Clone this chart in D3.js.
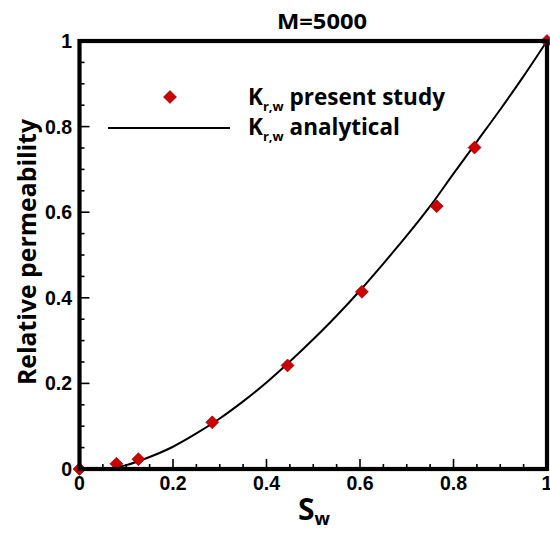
<!DOCTYPE html>
<html><head><meta charset="utf-8">
<script src="https://cdn.jsdelivr.net/npm/d3@7"></script>
<style>html,body{margin:0;padding:0;background:#fff;}</style>
</head><body>
<svg id="chart" width="550" height="537"></svg>
<script>
const swPresent = [0, 0.079, 0.126, 0.284, 0.445, 0.604, 0.764, 0.845, 1.0];
const krPresent = [0, 0.012, 0.023, 0.109, 0.242, 0.414, 0.614, 0.751, 1.0];
const swAnalytic = [0, 0.05, 0.1, 0.15, 0.2, 0.25, 0.3, 0.35, 0.4, 0.45, 0.5, 0.55, 0.6, 0.65, 0.7, 0.75, 0.8, 0.85, 0.9, 0.95, 1];
const krAnalytic = [0, 0, 0.009, 0.028, 0.052, 0.083, 0.118, 0.158, 0.202, 0.251, 0.303, 0.358, 0.417, 0.480, 0.545, 0.614, 0.690, 0.765, 0.840, 0.918, 1];
const xTicks = [0, 0.2, 0.4, 0.6, 0.8, 1];
const yTicks = [0, 0.2, 0.4, 0.6, 0.8, 1];
const xTickLabels = ["0", "0.2", "0.4", "0.6", "0.8", "1"];
const yTickLabels = ["0", "0.2", "0.4", "0.6", "0.8", "1"];
const minorTicks = d3.range(0, 21).map(i => i * 0.05);

const svg = d3.select("#chart");
const L = 79.5, R = 547, T = 41, B = 469;
const x = d3.scaleLinear().domain([0, 1]).range([L, R]);
const y = d3.scaleLinear().domain([0, 1]).range([B, T]);

// analytical curve
const line = d3.line().x((d, i) => x(swAnalytic[i])).y((d, i) => y(krAnalytic[i])).curve(d3.curveMonotoneX);
svg.append("path").datum(swAnalytic).attr("d", line)
  .attr("fill", "none").attr("stroke", "#000").attr("stroke-width", 2);

function diamondPath(s) {
  return `M0,${-s}L${s},0L0,${s}L${-s},0Z`;
}
svg.append("g").selectAll("path").data(swPresent).join("path")
  .attr("d", diamondPath(6.5))
  .attr("transform", (d, i) => `translate(${x(d)},${y(krPresent[i])})`)
  .attr("fill", "#cc0000").attr("stroke", "#8a0000").attr("stroke-width", 0.6);

// ticks inward
const gx = svg.append("g");
gx.selectAll("line").data(minorTicks).join("line")
  .attr("x1", d => x(d)).attr("x2", d => x(d))
  .attr("y1", B).attr("y2", (d, i) => B - (i % 4 === 0 ? 10 : 5))
  .attr("stroke", "#000").attr("stroke-width", 1.6);
const gy = svg.append("g");
gy.selectAll("line").data(minorTicks).join("line")
  .attr("y1", d => y(d)).attr("y2", d => y(d))
  .attr("x1", L).attr("x2", (d, i) => L + (i % 4 === 0 ? 10 : 5))
  .attr("stroke", "#000").attr("stroke-width", 1.6);

// frame
svg.append("rect").attr("x", L).attr("y", T).attr("width", R - L).attr("height", B - T)
  .attr("fill", "none").attr("stroke", "#000").attr("stroke-width", 4.2);

// tick labels
const tickFont = "'Liberation Sans', Arial, sans-serif";
svg.append("g").selectAll("text").data(xTicks).join("text")
  .attr("x", d => x(d)).attr("y", 490)
  .attr("text-anchor", "middle")
  .attr("font-family", tickFont).attr("font-weight", "bold").attr("font-size", 19.5)
  .text((d, i) => xTickLabels[i]);
svg.append("g").selectAll("text").data(yTicks).join("text")
  .attr("x", 72).attr("y", d => y(d) + 7)
  .attr("text-anchor", "end")
  .attr("font-family", tickFont).attr("font-weight", "bold").attr("font-size", 19.5)
  .text((d, i) => yTickLabels[i]);

const labFont = "'Open Sans', 'Noto Sans', sans-serif";
// title
svg.append("text").attr("x", 322).attr("y", 29).attr("text-anchor", "middle")
  .attr("font-family", labFont).attr("font-weight", "bold").attr("font-size", 22)
  .attr("textLength", 90).attr("lengthAdjust", "spacingAndGlyphs")
  .text("M=5000");

// x label
const xl = svg.append("text").attr("x", 298).attr("y", 520)
  .attr("font-family", labFont).attr("font-weight", "bold").attr("font-size", 30);
xl.append("tspan").text("S");
xl.append("tspan").attr("font-size", 18).attr("dy", 5).text("w");

// y label
svg.append("text").attr("transform", "translate(36,252) rotate(-90)")
  .attr("text-anchor", "middle")
  .attr("font-family", labFont).attr("font-weight", "bold").attr("font-size", 25)
  .attr("textLength", 266).attr("lengthAdjust", "spacingAndGlyphs")
  .text("Relative permeability");

// legend
const legX = 248;
svg.append("path").attr("d", diamondPath(6.5)).attr("transform", "translate(170,97)")
  .attr("fill", "#cc0000").attr("stroke", "#8a0000").attr("stroke-width", 0.6);
svg.append("line").attr("x1", 108).attr("x2", 230).attr("y1", 128).attr("y2", 128)
  .attr("stroke", "#000").attr("stroke-width", 2);
const legItems = [{t: " present study", y: 105}, {t: " analytical", y: 135}];
legItems.forEach(it => {
  const tx = svg.append("text").attr("x", legX).attr("y", it.y)
    .attr("font-family", labFont).attr("font-weight", "bold").attr("font-size", 22.5);
  tx.append("tspan").text("K");
  tx.append("tspan").attr("font-size", 13).attr("dy", 6).text("r,w");
  tx.append("tspan").attr("dy", -6).text(it.t);
});
</script>
</body></html>
